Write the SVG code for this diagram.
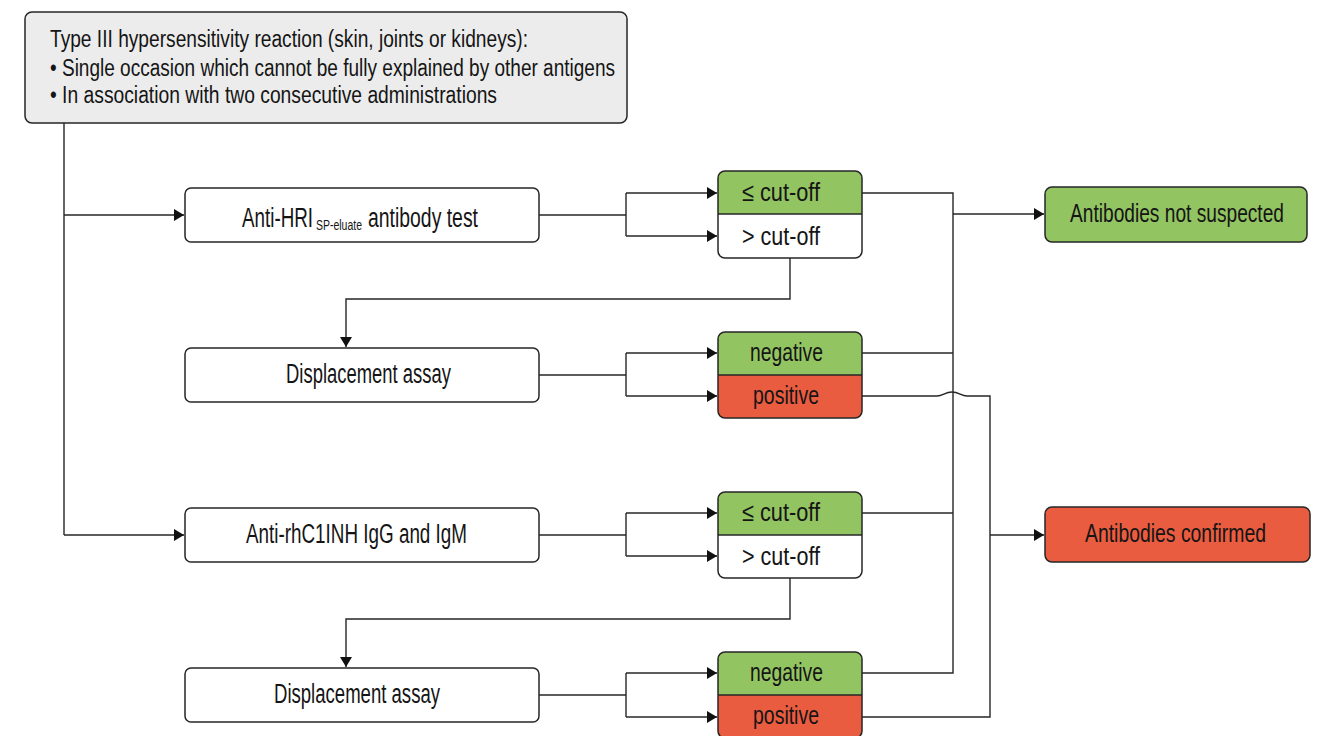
<svg xmlns="http://www.w3.org/2000/svg" width="1326" height="736" viewBox="0 0 1326 736">
<style>
text{font-family:"Liberation Sans",Arial,sans-serif;fill:#151515;}
.box{stroke:#262626;stroke-width:1.5;}
.white{fill:#ffffff;}
.green{fill:#93c462;}
.red{fill:#e95c40;}
.gray{fill:#ececec;}
.none{fill:none;}
.ln{fill:none;stroke:#262626;stroke-width:1.4;}
.t22{font-size:23px;}
.t24{font-size:26px;}
.t25{font-size:27px;}
</style>
<defs>
<marker id="arr" markerUnits="userSpaceOnUse" markerWidth="11" markerHeight="12" refX="10" refY="6" orient="auto">
<path d="M0,0 L10,6 L0,12 Z" fill="#111"/>
</marker>
</defs>

<g id="connectors">
<path class="ln" d="M64,123 V535"/>
<path class="ln" d="M64,215 H184" marker-end="url(#arr)"/>
<path class="ln" d="M64,535 H184" marker-end="url(#arr)"/>
<path class="ln" d="M539,215 H626"/>
<path class="ln" d="M626,193 V236"/>
<path class="ln" d="M626,193 H717" marker-end="url(#arr)"/>
<path class="ln" d="M626,236 H717" marker-end="url(#arr)"/>
<path class="ln" d="M539,375 H626"/>
<path class="ln" d="M626,353 V396"/>
<path class="ln" d="M626,353 H717" marker-end="url(#arr)"/>
<path class="ln" d="M626,396 H717" marker-end="url(#arr)"/>
<path class="ln" d="M539,535 H626"/>
<path class="ln" d="M626,513 V556"/>
<path class="ln" d="M626,513 H717" marker-end="url(#arr)"/>
<path class="ln" d="M626,556 H717" marker-end="url(#arr)"/>
<path class="ln" d="M539,695 H626"/>
<path class="ln" d="M626,673 V717"/>
<path class="ln" d="M626,673 H717" marker-end="url(#arr)"/>
<path class="ln" d="M626,717 H717" marker-end="url(#arr)"/>
<path class="ln" d="M790,258 V299 H346 V347" marker-end="url(#arr)"/>
<path class="ln" d="M790,578 V619 H346 V667" marker-end="url(#arr)"/>
<path class="ln" d="M862,193 H953 V673 H862"/>
<path class="ln" d="M862,353 H953"/>
<path class="ln" d="M862,513 H953"/>
<path class="ln" d="M953,214 H1044" marker-end="url(#arr)"/>
<path class="ln" d="M862,396 H937 C943,396 945,392 952,392 C959,392 961,396 967,396 H990 V717 H862"/>
<path class="ln" d="M990,535 H1044" marker-end="url(#arr)"/>
</g>

<g id="start">
<rect class="box gray" x="25" y="12" width="602" height="111" rx="7"/>
<text class="t22" x="50" y="47" textLength="478" lengthAdjust="spacingAndGlyphs">Type III hypersensitivity reaction (skin, joints or kidneys):</text>
<text class="t22" x="50" y="75.5" textLength="565" lengthAdjust="spacingAndGlyphs">• Single occasion which cannot be fully explained by other antigens</text>
<text class="t22" x="50" y="103" textLength="447" lengthAdjust="spacingAndGlyphs">• In association with two consecutive administrations</text>
</g>

<g id="hri-test">
<rect class="box white" x="185" y="188" width="354" height="54" rx="6"/>
<text class="t25" y="227"><tspan x="242" textLength="71" lengthAdjust="spacingAndGlyphs">Anti-HRI</tspan><tspan x="316" y="230" font-size="14" textLength="46" lengthAdjust="spacingAndGlyphs">SP-eluate</tspan><tspan x="368" y="227" textLength="110" lengthAdjust="spacingAndGlyphs">antibody test</tspan></text>
</g>

<g id="displacement-1">
<rect class="box white" x="185" y="348" width="354" height="54" rx="6"/>
<text class="t25" x="286" y="383" textLength="165" lengthAdjust="spacingAndGlyphs">Displacement assay</text>
</g>

<g id="rhc1inh-test">
<rect class="box white" x="185" y="508" width="354" height="54" rx="6"/>
<text class="t25" x="246" y="543" textLength="221" lengthAdjust="spacingAndGlyphs">Anti-rhC1INH IgG and IgM</text>
</g>

<g id="displacement-2">
<rect class="box white" x="185" y="668" width="354" height="54" rx="6"/>
<text class="t25" x="274" y="703" textLength="166" lengthAdjust="spacingAndGlyphs">Displacement assay</text>
</g>

<g id="cutoff-1">
<rect class="white" x="718" y="171" width="144" height="87" rx="7"/>
<path class="green" d="M718,214 V178 Q718,171 725,171 H855 Q862,171 862,178 V214 Z"/>
<rect class="box none" x="718" y="171" width="144" height="87" rx="7"/>
<path class="ln" d="M718,214 H862"/>
<text class="t24" x="742" y="201" textLength="78" lengthAdjust="spacingAndGlyphs">≤ cut-off</text>
<text class="t24" x="742" y="245" textLength="78" lengthAdjust="spacingAndGlyphs">&gt; cut-off</text>
</g>

<g id="result-1">
<path class="green" d="M718,375 V339 Q718,332 725,332 H855 Q862,332 862,339 V375 Z"/>
<path class="red" d="M718,375 V411 Q718,418 725,418 H855 Q862,418 862,411 V375 Z"/>
<rect class="box none" x="718" y="332" width="144" height="86" rx="7"/>
<path class="ln" d="M718,375 H862"/>
<text class="t24" x="750" y="361" textLength="73" lengthAdjust="spacingAndGlyphs">negative</text>
<text class="t24" x="753" y="404" textLength="66" lengthAdjust="spacingAndGlyphs">positive</text>
</g>

<g id="cutoff-2">
<rect class="white" x="718" y="492" width="144" height="86" rx="7"/>
<path class="green" d="M718,535 V499 Q718,492 725,492 H855 Q862,492 862,499 V535 Z"/>
<rect class="box none" x="718" y="492" width="144" height="86" rx="7"/>
<path class="ln" d="M718,535 H862"/>
<text class="t24" x="742" y="521" textLength="78" lengthAdjust="spacingAndGlyphs">≤ cut-off</text>
<text class="t24" x="742" y="565" textLength="78" lengthAdjust="spacingAndGlyphs">&gt; cut-off</text>
</g>

<g id="result-2">
<path class="green" d="M718,695 V659 Q718,652 725,652 H855 Q862,652 862,659 V695 Z"/>
<path class="red" d="M718,695 V731 Q718,738 725,738 H855 Q862,738 862,731 V695 Z"/>
<rect class="box none" x="718" y="652" width="144" height="86" rx="7"/>
<path class="ln" d="M718,695 H862"/>
<text class="t24" x="750" y="681" textLength="73" lengthAdjust="spacingAndGlyphs">negative</text>
<text class="t24" x="753" y="724" textLength="66" lengthAdjust="spacingAndGlyphs">positive</text>
</g>

<g id="not-suspected">
<rect class="box green" x="1045" y="187" width="262" height="55" rx="7"/>
<text class="t24" x="1070" y="222" textLength="214" lengthAdjust="spacingAndGlyphs">Antibodies not suspected</text>
</g>

<g id="confirmed">
<rect class="box red" x="1045" y="507" width="265" height="55" rx="7"/>
<text class="t24" x="1085" y="542" textLength="181" lengthAdjust="spacingAndGlyphs">Antibodies confirmed</text>
</g>
</svg>
